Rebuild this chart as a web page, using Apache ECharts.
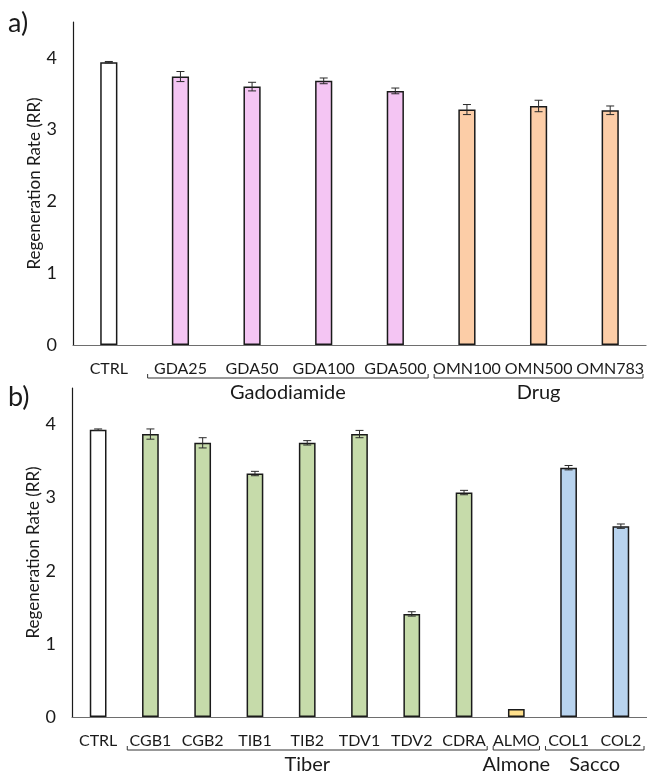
<!DOCTYPE html>
<html>
<head>
<meta charset="utf-8">
<script src="https://cdn.jsdelivr.net/npm/echarts@6/dist/echarts.min.js"></script>
<style>
html,body{margin:0;padding:0;background:#fff;}
#chart{width:647px;height:772px;}
</style>
</head>
<body>
<div id="chart"></div>
<script>
// ---------- DATA ----------
const catsA = ['CTRL','GDA25','GDA50','GDA100','GDA500','OMN100','OMN500','OMN783'];
const valsA = [3.94, 3.74, 3.60, 3.68, 3.54, 3.28, 3.33, 3.27];
const errA  = [0.01, 0.07, 0.06, 0.04, 0.04, 0.07, 0.08, 0.06];
const groupsA = [
  {name: 'Gadodiamide', from: 1, to: 4},
  {name: 'Drug', from: 5, to: 7}
];

const catsB = ['CTRL','CGB1','CGB2','TIB1','TIB2','TDV1','TDV2','CDRA','ALMO','COL1','COL2'];
const valsB = [3.93, 3.87, 3.75, 3.33, 3.75, 3.87, 1.41, 3.07, 0.11, 3.41, 2.61];
const errB  = [0.01, 0.07, 0.07, 0.03, 0.03, 0.05, 0.03, 0.03, 0.00, 0.03, 0.03];
const groupsB = [
  {name: 'Tiber', from: 1, to: 7},
  {name: 'Almone', from: 8, to: 8},
  {name: 'Sacco', from: 9, to: 10}
];

const yTicks = [0, 1, 2, 3, 4];
const yName = 'Regeneration Rate (RR)';
const panelLabels = ['a)', 'b)'];

// ---------- STYLE ----------
const FONT = 'Lato';
const groupColors = {
  Gadodiamide: '#F4C5F3',
  Drug: '#FCCDA7',
  Tiber: '#C6DBAA',
  Almone: '#FFE08C',
  Sacco: '#B8D3EE'
};
const ctrlColor = '#FFFFFF';

function colorFor(i, groups) {
  for (const g of groups) if (i >= g.from && i <= g.to) return groupColors[g.name];
  return ctrlColor;
}

function barData(vals, groups) {
  return vals.map((v, i) => ({
    value: v,
    itemStyle: {color: colorFor(i, groups)}
  }));
}

function errData(vals, errs) {
  return vals.map((v, i) => [i, v - errs[i], v + errs[i]]);
}

function errRender(params, api) {
  const x = api.value(0);
  const lo = api.coord([x, api.value(1)]);
  const hi = api.coord([x, api.value(2)]);
  if (Math.abs(hi[1] - lo[1]) < 0.5) return null;
  const w = 4;
  const st = {stroke: '#2a2a2a', lineWidth: 1};
  return {
    type: 'group',
    children: [
      {type: 'line', shape: {x1: lo[0], y1: lo[1], x2: hi[0], y2: hi[1]}, style: st},
      {type: 'line', shape: {x1: lo[0]-w, y1: lo[1], x2: lo[0]+w, y2: lo[1]}, style: st},
      {type: 'line', shape: {x1: hi[0]-w, y1: hi[1], x2: hi[0]+w, y2: hi[1]}, style: st}
    ]
  };
}

function xAxis(cats, gi) {
  return {
    type: 'category', gridIndex: gi, data: cats,
    axisLine: {lineStyle: {color: '#6e6e6e', width: 1.2}},
    axisTick: {show: false},
    axisLabel: {color: '#1a1a1a', fontFamily: FONT, fontSize: 16, margin: 16, interval: 0}
  };
}
function yAxis(gi) {
  return {
    type: 'value', gridIndex: gi, min: 0, max: 4.5, interval: 1,
    name: yName, nameLocation: 'middle', nameGap: 30, nameMoveOverlap: false,
    nameTextStyle: {color: '#1a1a1a', fontFamily: FONT, fontSize: 17},
    axisLine: {show: true, lineStyle: {color: '#1a1a1a', width: 1.2}},
    axisTick: {show: false},
    splitLine: {show: false},
    axisLabel: {
      color: '#1a1a1a', fontFamily: FONT, fontSize: 18, margin: 16,
      showMaxLabel: false,
      formatter: v => (yTicks.indexOf(v) >= 0 ? String(v) : '')
    }
  };
}

const chart = echarts.init(document.getElementById('chart'), null, {renderer: 'canvas'});

const option = {
  backgroundColor: '#fff',
  animation: false,
  grid: [
    {left: 73, right: 0, top: 22, height: 323},
    {left: 72, right: 0, top: 388, height: 329}
  ],
  xAxis: [xAxis(catsA, 0), xAxis(catsB, 1)],
  yAxis: [yAxis(0), yAxis(1)],
  series: [
    {
      type: 'bar', xAxisIndex: 0, yAxisIndex: 0, barWidth: '24%',
      data: barData(valsA, groupsA),
      itemStyle: {borderColor: '#1a1a1a', borderWidth: 1.5}
    },
    {
      type: 'custom', xAxisIndex: 0, yAxisIndex: 0, renderItem: errRender,
      data: errData(valsA, errA), z: 10
    },
    {
      type: 'bar', xAxisIndex: 1, yAxisIndex: 1, barWidth: '32%',
      data: barData(valsB, groupsB),
      itemStyle: {borderColor: '#1a1a1a', borderWidth: 1.5}
    },
    {
      type: 'custom', xAxisIndex: 1, yAxisIndex: 1, renderItem: errRender,
      data: errData(valsB, errB), z: 10
    }
  ]
};
chart.setOption(option);

// ---------- group brackets (computed from axes) ----------
function brackets(axisIdx, cats, groups) {
  const els = [];
  const p0 = chart.convertToPixel({xAxisIndex: axisIdx}, cats[0]);
  const p1 = chart.convertToPixel({xAxisIndex: axisIdx}, cats[1]);
  const cw = p1 - p0;
  const base = chart.convertToPixel({yAxisIndex: axisIdx}, 0);
  const yb = base + 33;
  groups.forEach(g => {
    const xs = chart.convertToPixel({xAxisIndex: axisIdx}, cats[g.from]) - cw / 2 + 3;
    const xe = chart.convertToPixel({xAxisIndex: axisIdx}, cats[g.to]) + cw / 2 - 3;
    els.push({
      type: 'polyline',
      shape: {points: [[xs, yb - 4], [xs, yb], [xe, yb], [xe, yb - 4]]},
      style: {stroke: '#333', lineWidth: 1, fill: null}
    });
    els.push({
      type: 'text',
      x: (xs + xe) / 2, y: base + 48,
      style: {text: g.name, fill: '#1a1a1a', font: '20px ' + FONT, align: 'center', verticalAlign: 'middle'}
    });
  });
  return els;
}

const graphics = [].concat(brackets(0, catsA, groupsA), brackets(1, catsB, groupsB));
graphics.push({type: 'text', x: 8, y: 23, style: {text: panelLabels[0], fill: '#1a1a1a', font: '27px ' + FONT, verticalAlign: 'middle'}});
graphics.push({type: 'text', x: 8, y: 397, style: {text: panelLabels[1], fill: '#1a1a1a', font: '27px ' + FONT, verticalAlign: 'middle'}});
chart.setOption({graphic: graphics});
</script>
</body>
</html>
